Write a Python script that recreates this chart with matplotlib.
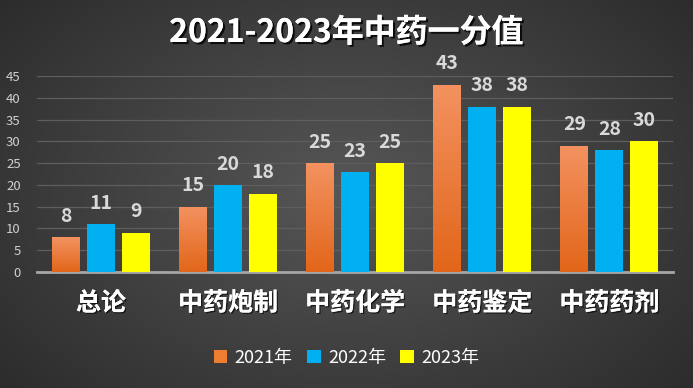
import matplotlib
matplotlib.use("Agg")
import matplotlib.pyplot as plt
import matplotlib.patheffects as pe
import numpy as np

plt.rcParams['font.family'] = ['Noto Sans CJK SC', 'DejaVu Sans']

categories = ['总论', '中药炮制', '中药化学', '中药鉴定', '中药药剂']
years = ['2021年', '2022年', '2023年']
v2021 = [8, 15, 25, 43, 29]
v2022 = [11, 20, 23, 38, 28]
v2023 = [9, 18, 25, 38, 30]

orange = '#ED7D31'
blue = '#00B0F0'
yellow = '#FFFF00'
label_gray = '#D9D9D9'

fig = plt.figure(figsize=(6.93, 3.88), dpi=100)

# radial-ish dark background
bg = fig.add_axes([0, 0, 1, 1])
yy, xx = np.mgrid[-1:1:200j, -1:1:360j]
r = np.sqrt((xx / 1.1) ** 2 + (yy / 1.3) ** 2)
shade = 0.34 - 0.14 * np.clip(r, 0, 1.3)
bg.imshow(np.dstack([shade] * 3), extent=[0, 1, 0, 1], aspect='auto')
bg.axis('off')

ax = fig.add_axes([0.054, 0.299, 0.917, 0.505])
ax.patch.set_alpha(0)

x = np.arange(len(categories))
w = 0.22
step = 0.275

grad = np.linspace(0, 1, 100).reshape(-1, 1)
orange_cmap = matplotlib.colors.LinearSegmentedColormap.from_list('o', ['#E2661A', '#F39260'])

bars1 = ax.bar(x - step, v2021, w, color=orange, zorder=3)
bars2 = ax.bar(x, v2022, w, color=blue, zorder=3)
bars3 = ax.bar(x + step, v2023, w, color=yellow, zorder=3)

for b in bars1:
    im = ax.imshow(grad, cmap=orange_cmap, origin='lower', aspect='auto',
                   extent=[b.get_x(), b.get_x() + b.get_width(), 0, b.get_height()],
                   zorder=4)
    im.set_clip_path(b)

for bars, vals in [(bars1, v2021), (bars2, v2022), (bars3, v2023)]:
    for b, v in zip(bars, vals):
        ax.annotate(str(v), (b.get_x() + b.get_width() / 2, v), xytext=(0, 15),
                    textcoords='offset points', ha='center', va='center',
                    fontsize=14, fontweight='bold', color=label_gray,
                    annotation_clip=False, zorder=5)

ax.set_xlim(-0.5, len(categories) - 0.5)
ax.set_ylim(0, 45)
ax.set_yticks(range(0, 46, 5))
ax.yaxis.grid(True, color='#5E5E5E', linewidth=0.9, zorder=0)
ax.set_axisbelow(True)
for s in ['top', 'right', 'left']:
    ax.spines[s].set_visible(False)
ax.spines['bottom'].set_color('#A6A6A6')
ax.spines['bottom'].set_linewidth(2)
ax.tick_params(axis='y', length=0, colors='#D0D0D0', labelsize=9.5, pad=12)
ax.tick_params(axis='x', length=0, pad=14)
ax.set_xticks(x)
ax.set_xticklabels(categories, fontsize=18, fontweight='bold', color='white')
for t in ax.get_xticklabels():
    t.set_path_effects([pe.withSimplePatchShadow(offset=(1, -1), shadow_rgbFace='black', alpha=0.6), pe.Normal()])

fig.text(0.5, 0.915, '2021-2023年中药一分值', ha='center', va='center',
         fontsize=23, fontweight='bold', color='white',
         path_effects=[pe.withSimplePatchShadow(offset=(1.5, -1.5), shadow_rgbFace='black', alpha=0.8), pe.Normal()])

handles = [bars1, bars2, bars3]
leg = fig.legend(handles, years, loc='center', bbox_to_anchor=(0.5, 0.077), ncol=3,
                 frameon=False, fontsize=13, handlelength=0.75, handleheight=0.75,
                 handletextpad=0.4, columnspacing=0.8)
for t in leg.get_texts():
    t.set_color('white')

plt.savefig('out.png', dpi=100)
